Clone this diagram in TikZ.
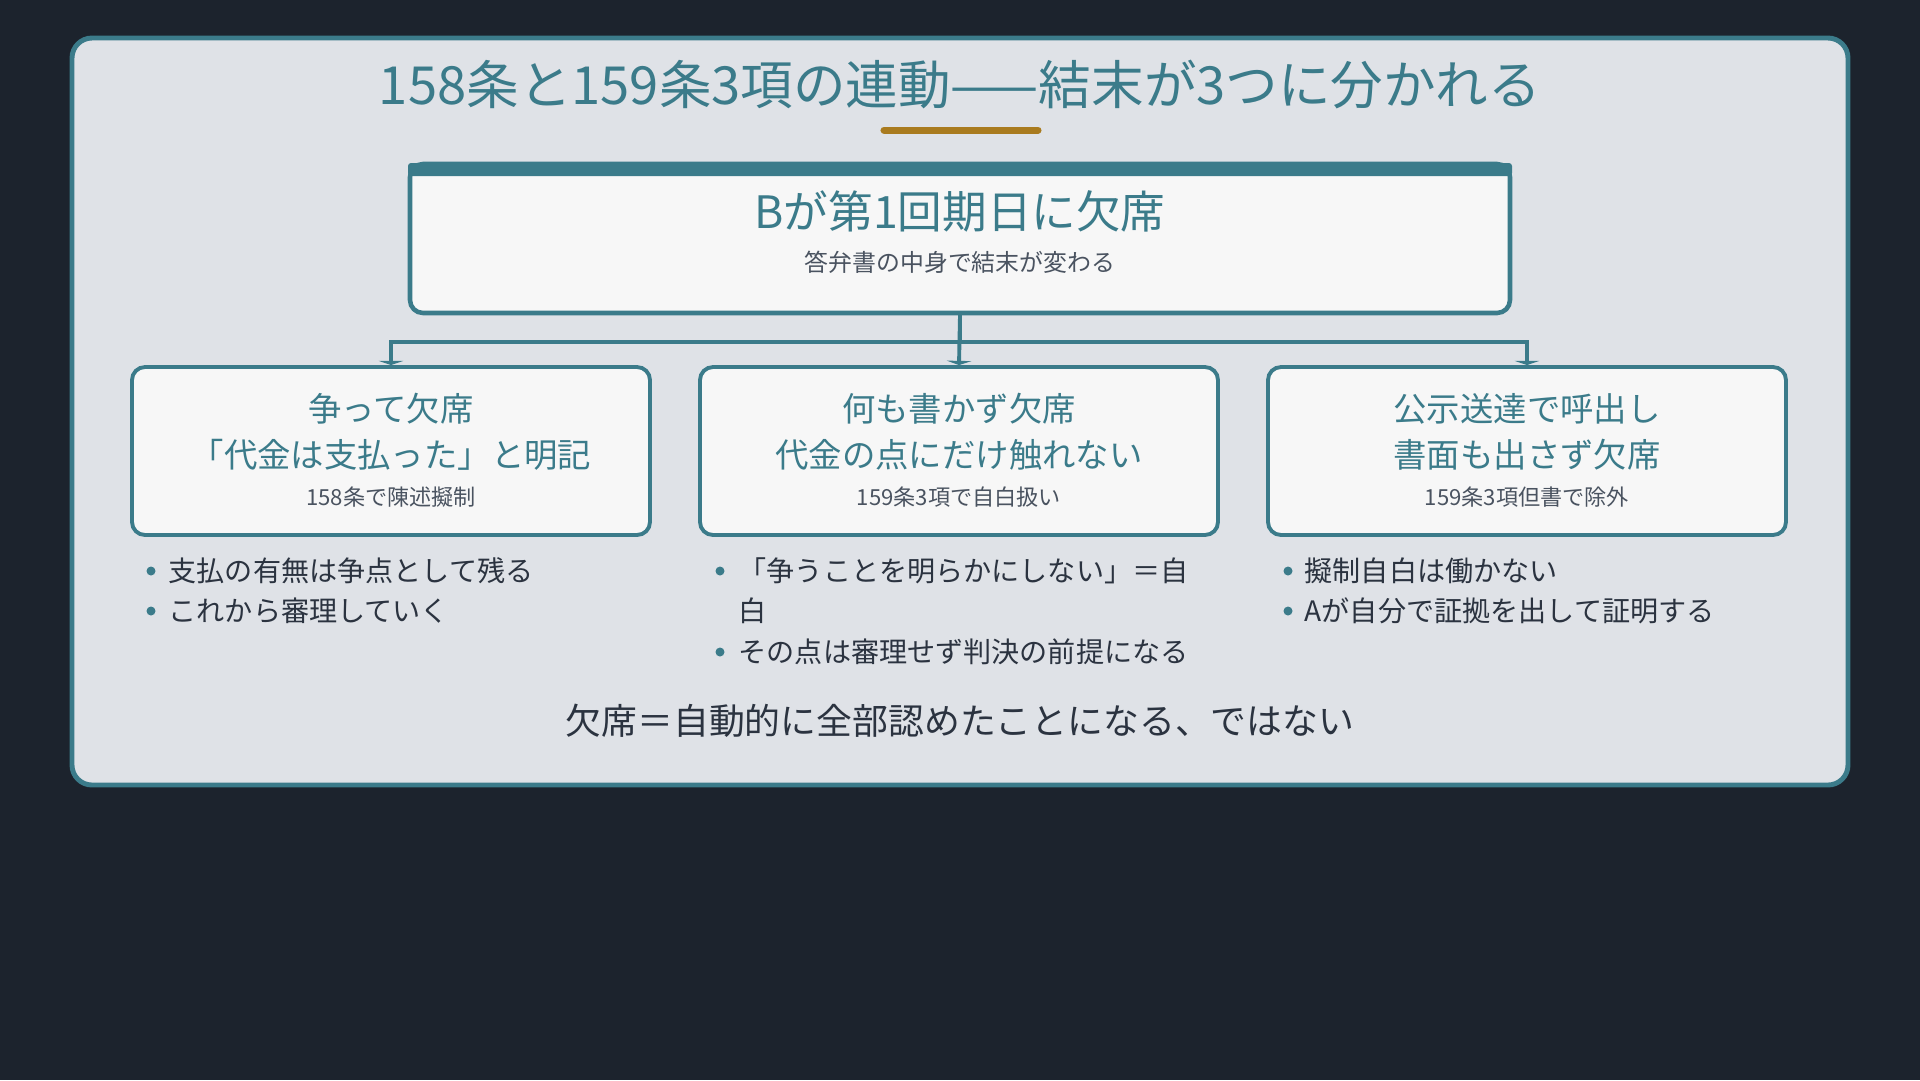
\documentclass[tikz,border=0pt]{standalone}
\usepackage{fontspec}
\setmainfont{Noto Sans CJK JP}
\usetikzlibrary{arrows.meta}
\definecolor{bgdark}{HTML}{1C232D}
\definecolor{panelfill}{HTML}{DFE2E7}
\definecolor{tealline}{HTML}{3B7B8A}
\definecolor{cardfill}{HTML}{F7F7F7}
\definecolor{goldline}{HTML}{A97B1F}
\definecolor{darktext}{HTML}{2B3340}
\definecolor{graytext}{HTML}{4A5360}

\begin{document}
\begin{tikzpicture}[x=0.1mm,y=-0.1mm]
\tikzstyle{every node}=[inner sep=0pt];
\tikzstyle{card}=[draw=tealline,line width=1.1pt,fill=cardfill,rounded corners=1.3mm,minimum width=51.8mm,minimum height=16.8mm];
\tikzstyle{cardtitle}=[text=tealline,align=center,font=\fontsize{9.5pt}{13pt}\selectfont];
\tikzstyle{cardsub}=[text=graytext,font=\fontsize{6.3pt}{8pt}\selectfont];
\tikzstyle{item}=[anchor=west,text=darktext,font=\fontsize{8pt}{10pt}\selectfont];
\tikzstyle{link}=[draw=tealline,line width=1.1pt,-{Triangle[width=7pt,length=1.2pt]}];
% background and panel
\fill[bgdark] (0,0) rectangle (1920,1080);
\draw[tealline,fill=panelfill,line width=1.4pt,rounded corners=2mm] (72,38) rectangle (1848,785);
% title
\node[text=tealline,font=\fontsize{14.95pt}{17pt}\selectfont] (title) at (960,84) {158条と159条3項の連動——結末が3つに分かれる};
\draw[goldline,line width=2pt,line cap=round] (884,130) -- (1038,130);
% top box
\node[card,line width=1.3pt,minimum width=110mm,minimum height=14.9mm] (top) at (960,238.5) {};
\fill[tealline,rounded corners=0.3mm] (408,163) rectangle (1512,176);
\node[text=tealline,font=\fontsize{12.7pt}{15pt}\selectfont] (toptext) at (960,211) {Bが第1回期日に欠席};
\node[text=graytext,font=\fontsize{6.8pt}{8pt}\selectfont] (topsub) at (960,262) {答弁書の中身で結末が変わる};
% three cases
\node[card] (b1) at (391,451) {};
\node[card] (b2) at (959,451) {};
\node[card] (b3) at (1527,451) {};
\node[cardtitle] (b1t) at (391,432) {争って欠席\\「代金は支払った」と明記};
\node[cardtitle] (b2t) at (959,432) {何も書かず欠席\\代金の点にだけ触れない};
\node[cardtitle] (b3t) at (1527,432) {公示送達で呼出し\\書面も出さず欠席};
\node[cardsub] (b1s) at (391,497) {158条で陳述擬制};
\node[cardsub] (b2s) at (959,497) {159条3項で自白扱い};
\node[cardsub] (b3s) at (1527,497) {159条3項但書で除外};
\draw[link] (top.south) -- ++(0,27) -| (b1.north);
\draw[link] (top.south) -- (b2.north);
\draw[link] (top.south) -- ++(0,27) -| (b3.north);
% bullets
\fill[tealline] (151,571) circle (4.5) (151,611) circle (4.5);
\node[item] (i11) at (168,571) {支払の有無は争点として残る};
\node[item] (i12) at (168,611) {これから審理していく};
\fill[tealline] (720,571) circle (4.5) (720,652) circle (4.5);
\node[item] (i21) at (738,571) {「争うことを明らかにしない」＝自};
\node[item] (i21b) at (738,611) {白};
\node[item] (i22) at (738,652) {その点は審理せず判決の前提になる};
\fill[tealline] (1288,571) circle (4.5) (1288,611) circle (4.5);
\node[item] (i31) at (1304,571) {擬制自白は働かない};
\node[item] (i32) at (1304,611) {Aが自分で証拠を出して証明する};
% bottom line
\node[text=darktext,font=\fontsize{10.2pt}{12pt}\selectfont] (note) at (960,721) {欠席＝自動的に全部認めたことになる、ではない};
\end{tikzpicture}
\end{document}
